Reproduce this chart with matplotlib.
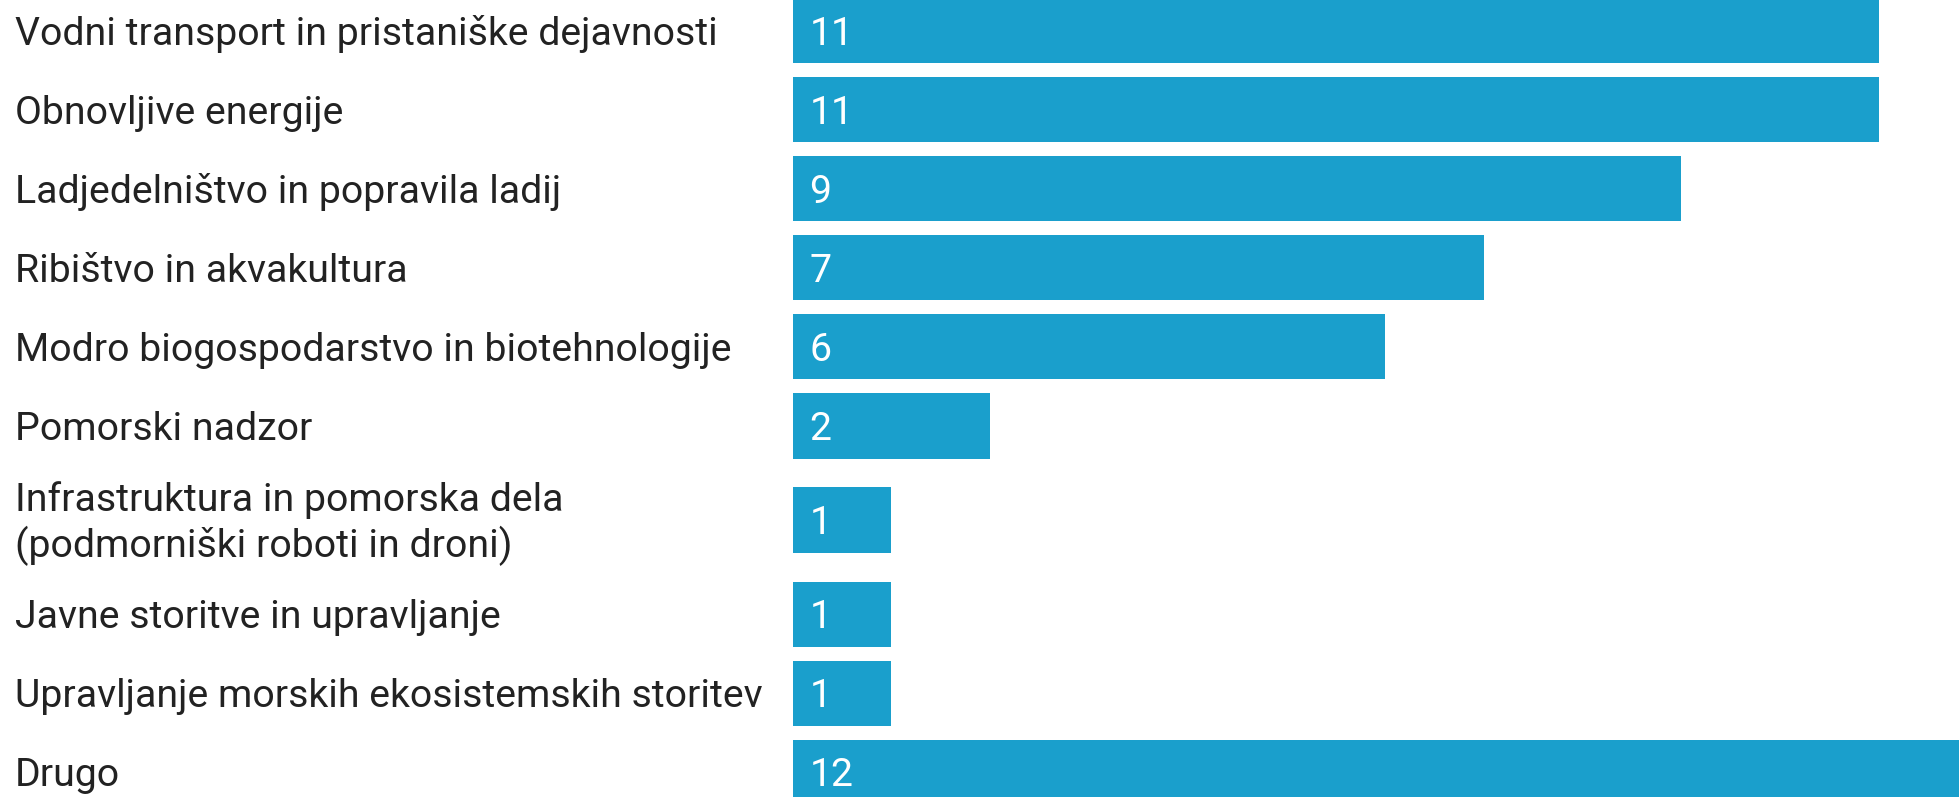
import matplotlib
matplotlib.use("Agg")
import matplotlib.pyplot as plt
import matplotlib.transforms as mtransforms

categories = [
    "Vodni transport in pristaniške dejavnosti",
    "Obnovljive energije",
    "Ladjedelništvo in popravila ladij",
    "Ribištvo in akvakultura",
    "Modro biogospodarstvo in biotehnologije",
    "Pomorski nadzor",
    "Infrastruktura in pomorska dela\n(podmorniški roboti in droni)",
    "Javne storitve in upravljanje",
    "Upravljanje morskih ekosistemskih storitev",
    "Drugo",
]
values = [11, 11, 9, 7, 6, 2, 1, 1, 1, 12]

bar_color = "#1a9fcc"
text_color = "#222222"
plt.rcParams["font.family"] = ["Roboto", "DejaVu Sans"]

# row positions: two-line labels get a bit more room
positions = []
y = 0.0
prev_extra = 0.0
for i, lab in enumerate(categories):
    extra = 0.19 if "\n" in lab else 0.0
    if i > 0:
        y += 1 + prev_extra + extra
    positions.append(y)
    prev_extra = extra

fig = plt.figure(figsize=(19.59, 7.97), dpi=100)
ax = fig.add_axes([792.5 / 1959, 0, 1 - 792.5 / 1959, 1])
ax.barh(positions, values, height=0.823, color=bar_color)
ax.set_xlim(0, 11.81)
ax.set_ylim(9.696, -0.392)
ax.axis("off")

# small nudge so capital letters sit centred on the bar
dy = 0.043
trans = mtransforms.blended_transform_factory(fig.transFigure, ax.transData)
for p, lab, v in zip(positions, categories, values):
    ax.text(15 / 1959, p + dy, lab, transform=trans, ha="left", va="center",
            fontsize=28.3, color=text_color, linespacing=1.2, clip_on=False)
    ax.text(0.17, p + dy, str(v), ha="left", va="center", fontsize=28.3,
            color="white")

fig.savefig("out.png", dpi=100)
